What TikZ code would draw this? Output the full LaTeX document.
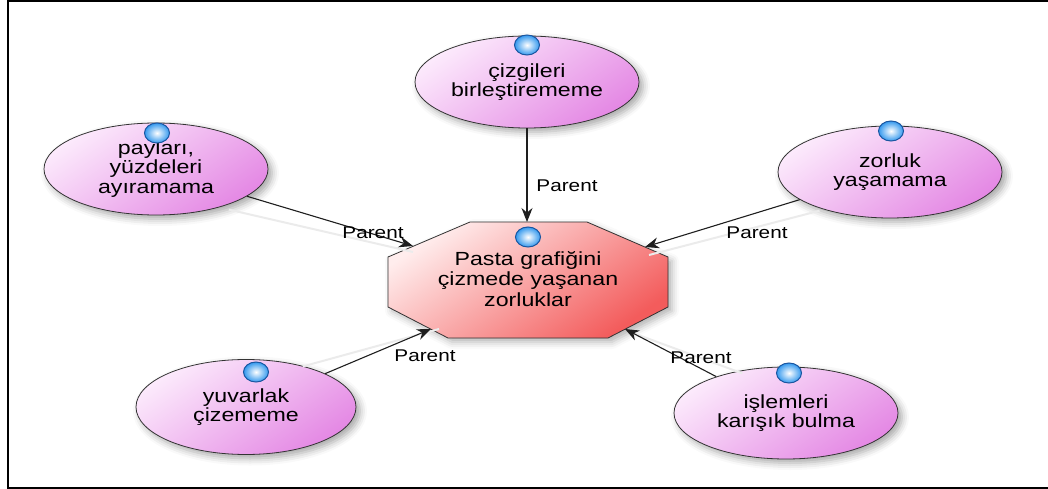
\documentclass[tikz,border=0pt]{standalone}
\usepackage{fontspec}
\setmainfont{Liberation Sans}[FakeStretch=1.22]
\usetikzlibrary{arrows.meta,shapes.geometric,shadows.blur}

\definecolor{leafhi}{HTML}{FCEAFC}
\definecolor{leaflo}{HTML}{E488E4}
\definecolor{corehi}{HTML}{FFEDED}
\definecolor{corelo}{HTML}{F35C5C}
\definecolor{gemrim}{HTML}{1A56A0}
\definecolor{gemcore}{HTML}{3398EE}
\definecolor{linkcol}{HTML}{1E1E1E}

\begin{document}
\begin{tikzpicture}[x=1pt,y=-1pt,
  leaf/.style={ellipse, draw=black!80, line width=0.8pt,
    minimum width=224pt, minimum height=92pt, inner sep=0pt,
    top color=leafhi, bottom color=leaflo, shading angle=35,
    blur shadow={shadow xshift=4pt, shadow yshift=-4pt,
      shadow blur radius=7pt, shadow opacity=35},
    align=center, font=\fontsize{19}{19.5}\selectfont},
  gem/.style={ellipse, draw=gemrim, line width=1pt,
    minimum width=25pt, minimum height=20pt, inner sep=0pt,
    inner color=white, outer color=gemcore},
  caption/.style={font=\fontsize{17}{18}\selectfont, inner sep=0pt},
  corefont/.style={align=center, font=\fontsize{19}{20.5}\selectfont},
  link/.style={draw=linkcol, line width=1.1pt,
    -{Stealth[length=14pt,width=11pt]}},
  ghost/.style={draw=black!8, line width=2pt}
]
\useasboundingbox (0,0) rectangle (1048,489);

% frame
\draw[line width=1.4pt] (1048,1) -- (8,1) -- (8,488) -- (1048,488);

% central octagon
\coordinate (o1) at (470,222);
\coordinate (o2) at (587,222);
\coordinate (o3) at (668,257);
\coordinate (o4) at (668,307);
\coordinate (o5) at (608,338);
\coordinate (o6) at (448,338);
\coordinate (o7) at (388,307);
\coordinate (o8) at (388,257);
\path[draw=black!80, line width=0.8pt, top color=corehi, bottom color=corelo,
  shading angle=35,
  blur shadow={shadow xshift=4pt, shadow yshift=-4pt,
    shadow blur radius=7pt, shadow opacity=30}]
  (o1) -- (o2) -- (o3) -- (o4) -- (o5) -- (o6) -- (o7) -- (o8) -- cycle;
\node[corefont] (core) at (528,279) {Pasta grafiğini\\çizmede yaşanan\\zorluklar};
\node[gem] (gcore) at (528,237) {};

% arrow tips on the octagon border
\coordinate (tT)  at (527,222);
\coordinate (tL)  at (413,246);
\coordinate (tR)  at (645,247);
\coordinate (tBL) at (431,329);
\coordinate (tBR) at (625,329);

% outer ellipses
\node[leaf] (nT)  at (527,82)  {çizgileri\\birleştirememe};
\node[leaf] (nL)  at (156,169) {payları,\\yüzdeleri\\ayıramama};
\node[leaf] (nR)  at (890,172) {zorluk\\yaşamama};
\node[leaf, minimum width=220pt, minimum height=95pt] (nBL) at (246,407) {yuvarlak\\çizememe};
\node[leaf] (nBR) at (786,413) {işlemleri\\karışık bulma};

\node[gem] (gT)  at (527,45)  {};
\node[gem] (gL)  at (157,133) {};
\node[gem] (gR)  at (891,131) {};
\node[gem] (gBL) at (256,372) {};
\node[gem] (gBR) at (789,373) {};

% faint trails beside the connectors
\path[ghost] ([xshift=4pt,yshift=-4pt]nL.-28) -- ([xshift=0pt,yshift=-6pt]tL);
\path[ghost] ([xshift=4pt,yshift=-4pt]nR.-155) -- ([xshift=4pt,yshift=-8pt]tR);
\path[ghost] ([xshift=6pt,yshift=-2pt]nBL.40) -- ([xshift=8pt,yshift=0pt]tBL);
\path[ghost] ([xshift=6pt,yshift=-2pt]nBR.140) -- ([xshift=8pt,yshift=-4pt]tBR);

% connectors
\draw[link] (nT)  -- (tT);
\draw[link] (nL)  -- (tL);
\draw[link] (nR)  -- (tR);
\draw[link] (nBL) -- (tBL);
\draw[link] (nBR) -- (tBR);

% connector labels
\node[caption] (lT)  at (567,186) {Parent};
\node[caption] (lL)  at (373,233) {Parent};
\node[caption] (lR)  at (757,233) {Parent};
\node[caption] (lBL) at (425,356) {Parent};
\node[caption] (lBR) at (701,358) {Parent};
\end{tikzpicture}
\end{document}
